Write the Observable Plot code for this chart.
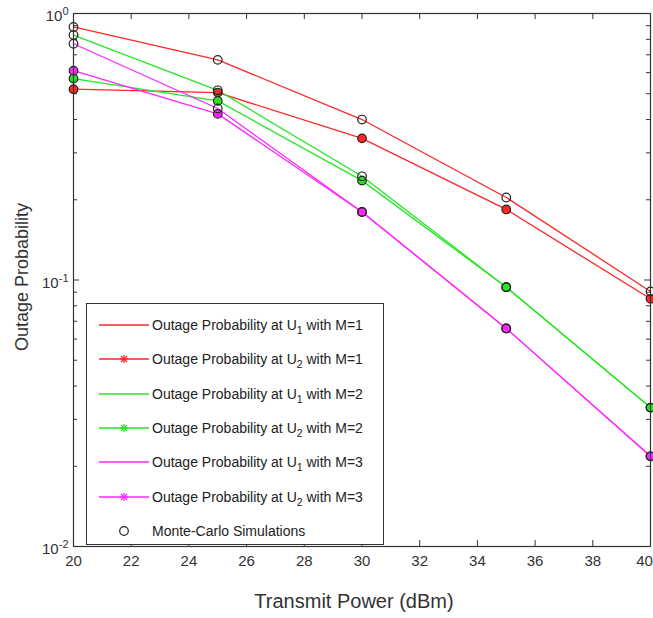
<!DOCTYPE html>
<html><head><meta charset="utf-8">
<script src="https://cdn.jsdelivr.net/npm/d3@7"></script>
<script src="https://cdn.jsdelivr.net/npm/@observablehq/plot@0.6"></script>
<style>
body{margin:0;background:#fff;}
#wrap{position:relative;width:653px;height:618px;font-family:"Liberation Sans",Arial,sans-serif;color:#222;}
#legend{position:absolute;left:86px;top:303px;width:298px;height:242px;border:1px solid #333;background:#fff;box-sizing:border-box;}
.row{position:absolute;left:0;height:18px;width:100%;}
.row svg{position:absolute;left:10px;top:0;}
.row span{position:absolute;left:65px;top:1px;font-size:14px;white-space:nowrap;line-height:16px;}
.row sub{font-size:10.5px;vertical-align:-4px;line-height:0;}
</style></head><body>
<div id="wrap"><div id="legend"></div></div>
<script>
// ---- data ----
const power = [20, 25, 30, 35, 40];
const u1m1 = [0.89, 0.67, 0.40, 0.204, 0.0906];
const u2m1 = [0.52, 0.505, 0.34, 0.184, 0.085];
const u1m2 = [0.83, 0.515, 0.245, 0.094, 0.0332];
const u2m2 = [0.57, 0.47, 0.236, 0.094, 0.0332];
const u1m3 = [0.77, 0.44, 0.18, 0.0658, 0.0218];
const u2m3 = [0.61, 0.42, 0.18, 0.0658, 0.0218];
const xTicks = [20, 22, 24, 26, 28, 30, 32, 34, 36, 38, 40];
const yTicks = [0.01, 0.1, 1];
const yMinor = [0.02, 0.03, 0.04, 0.05, 0.06, 0.07, 0.08, 0.09, 0.2, 0.3, 0.4, 0.5, 0.6, 0.7, 0.8, 0.9];
const legendUsers = [1, 2, 1, 2, 1, 2];
const legendM = [1, 1, 2, 2, 3, 3];
const monteCarloLabel = "Monte-Carlo Simulations";
const xLabel = "Transmit Power (dBm)";
const yLabel = "Outage Probability";

const red = "#ff2626", green = "#26e626", magenta = "#ff26ff";
const seriesValues = [u1m1, u2m1, u1m2, u2m2, u1m3, u2m3];
const seriesColors = [red, red, green, green, magenta, magenta];

const rows = seriesValues.flatMap((vals, k) => power.map((p, i) => ({
  x: p, y: vals[i], k, user: legendUsers[k], color: seriesColors[k]
})));

const axisColor = "#333";
const chart = Plot.plot({
  width: 653, height: 618,
  marginLeft: 73, marginRight: 3, marginTop: 13, marginBottom: 72,
  style: {fontFamily: "Liberation Sans, Arial, sans-serif", background: "transparent", color: "#333"},
  x: {domain: [20, 40]},
  y: {type: "log", domain: [0.01, 1]},
  color: {type: "identity"},
  marks: [
    Plot.axisX(xTicks, {tickSize: 0, tickPadding: 9, fontSize: 15, tickFormat: d => String(d), label: null}),
    Plot.axisY(yTicks, {tickSize: 0, tickPadding: 5, fontSize: 15, dy: 3, tickFormat: d => String(Math.round(Math.log10(d))), label: null}),
    Plot.ruleX(xTicks, {x: d => d, y1: 0.01, y2: 0.01, insetTop: -6, stroke: axisColor}),
    Plot.ruleX(xTicks, {x: d => d, y1: 1, y2: 1, insetBottom: -6, stroke: axisColor}),
    Plot.ruleY(yTicks, {y: d => d, x1: 20, x2: 20, insetRight: -6, stroke: axisColor}),
    Plot.ruleY(yTicks, {y: d => d, x1: 40, x2: 40, insetLeft: -6, stroke: axisColor}),
    Plot.ruleY(yMinor, {y: d => d, x1: 20, x2: 20, insetRight: -4, stroke: axisColor}),
    Plot.ruleY(yMinor, {y: d => d, x1: 40, x2: 40, insetLeft: -4, stroke: axisColor}),
    Plot.line(rows, {x: "x", y: "y", z: "k", stroke: "color", strokeWidth: 1.3}),
    Plot.dot(rows.filter(d => d.user === 2), {x: "x", y: "y", r: 4.3, fill: "color", stroke: "#222", strokeWidth: 1.2}),
    Plot.dot(rows.filter(d => d.user === 1), {x: "x", y: "y", r: 4.3, fill: "none", stroke: "#222", strokeWidth: 1.2}),
    Plot.frame({stroke: axisColor, strokeWidth: 1.2}),
    Plot.text([yLabel], {frameAnchor: "left", textAnchor: "middle", rotate: -90, dx: -51, dy: -3, fontSize: 18, fill: "#333"}),
    Plot.text([xLabel], {frameAnchor: "bottom", textAnchor: "middle", dy: 61, dx: -8, fontSize: 20, fill: "#333"})
  ]
});
document.getElementById("wrap").prepend(chart);

// superscript exponents on y tick labels
d3.select(chart).selectAll('g[aria-label="y-axis tick label"] text').each(function() {
  const t = d3.select(this);
  const exp = t.text();
  t.text(null);
  t.append("tspan").text("10");
  t.append("tspan").attr("dy", "-0.55em").attr("font-size", "11px").text(exp);
});
// last x tick label sits slightly inside the edge, as in the reference
const xLabels = d3.select(chart).selectAll('g[aria-label="x-axis tick label"] text').nodes();
if (xLabels.length) xLabels[xLabels.length - 1].setAttribute("dx", "-6");

// legend
const legend = document.getElementById("legend");
const rowTop = k => 21 + k * 34.3 - 9;
function asterisk(cx, cy, c) {
  const s = 4;
  return `<line x1="${cx - s}" y1="${cy}" x2="${cx + s}" y2="${cy}" stroke="${c}" stroke-width="1.3"/>` +
    `<line x1="${cx}" y1="${cy - s}" x2="${cx}" y2="${cy + s}" stroke="${c}" stroke-width="1.3"/>` +
    `<line x1="${cx - 3}" y1="${cy - 3}" x2="${cx + 3}" y2="${cy + 3}" stroke="${c}" stroke-width="1.3"/>` +
    `<line x1="${cx - 3}" y1="${cy + 3}" x2="${cx + 3}" y2="${cy - 3}" stroke="${c}" stroke-width="1.3"/>`;
}
legendUsers.forEach((u, k) => {
  const c = seriesColors[k];
  const div = document.createElement("div");
  div.className = "row";
  div.style.top = rowTop(k) + "px";
  div.innerHTML = `<svg width="56" height="18"><line x1="2" y1="9" x2="52" y2="9" stroke="${c}" stroke-width="1.3"/>${u === 2 ? asterisk(27, 9, c) : ""}</svg>` +
    `<span>Outage Probability at U<sub>${u}</sub> with M=${legendM[k]}</span>`;
  legend.appendChild(div);
});
const mc = document.createElement("div");
mc.className = "row";
mc.style.top = rowTop(6) + "px";
mc.innerHTML = `<svg width="56" height="18"><circle cx="27" cy="9" r="4.3" fill="none" stroke="#222" stroke-width="1.2"/></svg><span>${monteCarloLabel}</span>`;
legend.appendChild(mc);
</script>
</body></html>
